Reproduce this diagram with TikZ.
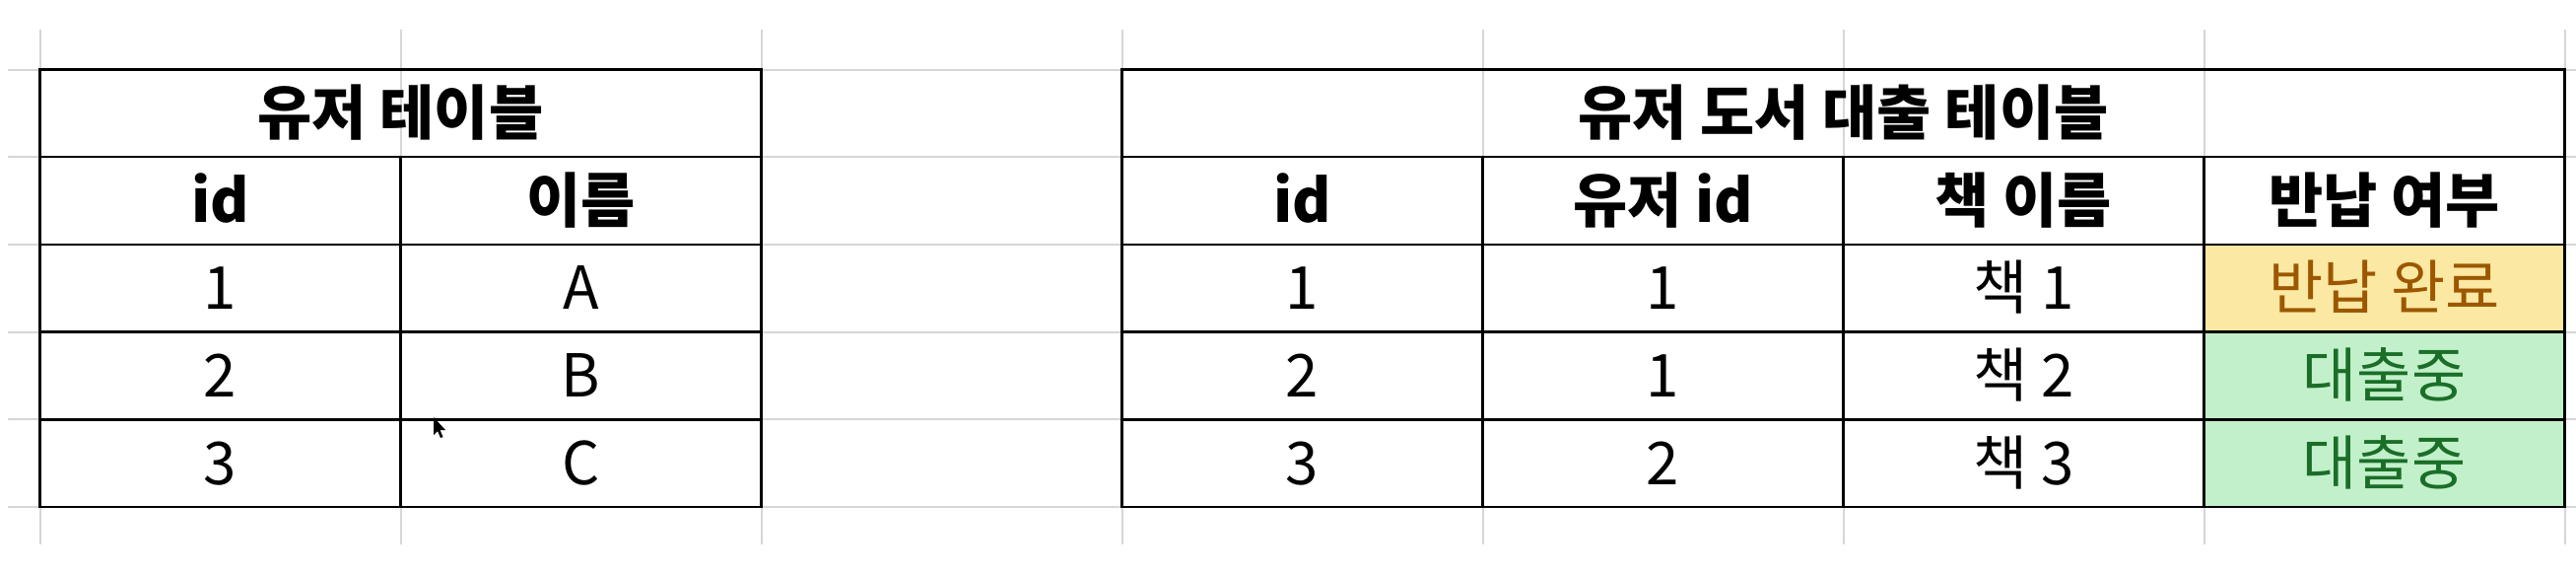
\documentclass[tikz,border=0pt]{standalone}
\usepackage{fontspec}
\setmainfont{Noto Sans CJK KR}
\definecolor{gridgray}{HTML}{D6D6D6}
\definecolor{neutralfill}{HTML}{FBE8A2}
\definecolor{neutraltext}{HTML}{9C5700}
\definecolor{goodfill}{HTML}{C2F0CA}
\definecolor{goodtext}{HTML}{1B6E28}
\begin{document}
\begin{tikzpicture}[x=1pt,y=-1pt,
  gridline/.style={draw=gridgray,line width=2pt},
  border/.style={draw=black,line width=2.4pt},
  cell/.style={anchor=base,inner sep=0pt,font=\fontsize{60}{72}\selectfont},
  head/.style={anchor=base,inner sep=0pt,font=\fontsize{60}{72}\selectfont\bfseries}]
\useasboundingbox (0,0) rectangle (2614,582);
\fill[white] (0,0) rectangle (2614,582);
% spreadsheet grid
\foreach \y in {70.5,159.2,247.9,336.6,425.3,514} \draw[gridline] (8,\y) -- (2614,\y);
\foreach \x in {40.5,406.5,772.5,1138.5,1504.5,1870.5,2236.5,2602.5} \draw[gridline] (\x,30) -- (\x,552);
% coloured cells
\fill[neutralfill] (2236.5,247.9) rectangle (2602.5,336.6);
\fill[goodfill] (2236.5,336.6) rectangle (2602.5,514);
% left table borders
\draw[border] (40.5,70.5) rectangle (772.5,514);
\foreach \y in {159.2,247.9,336.6,425.3} \draw[border] (40.5,\y) -- (772.5,\y);
\draw[border] (406.5,159.2) -- (406.5,514);
% right table borders
\draw[border] (1138.5,70.5) rectangle (2602.5,514);
\foreach \y in {159.2,247.9,336.6,425.3} \draw[border] (1138.5,\y) -- (2602.5,\y);
\foreach \x in {1504.5,1870.5,2236.5} \draw[border] (\x,159.2) -- (\x,514);
% left table texts
\node[head] (lt) at (406.5,136.5) {유저 테이블};
\node[head] (lh1) at (223.5,225) {id};
\node[head] (lh2) at (589.5,225) {이름};
\node[cell] (l11) at (223.5,313.5) {1};
\node[cell] (l12) at (589.5,313.5) {A};
\node[cell] (l21) at (223.5,402.5) {2};
\node[cell] (l22) at (589.5,402.5) {B};
\node[cell] (l31) at (223.5,491) {3};
\node[cell] (l32) at (589.5,491) {C};
% right table texts
\node[head] (rt) at (1870.5,136.5) {유저 도서 대출 테이블};
\node[head] (rh1) at (1321.5,225) {id};
\node[head] (rh2) at (1687.5,225) {유저 id};
\node[head] (rh3) at (2053.5,225) {책 이름};
\node[head] (rh4) at (2419.5,225) {반납 여부};
\node[cell] (r11) at (1321.5,313.5) {1};
\node[cell] (r12) at (1687.5,313.5) {1};
\node[cell] (r13) at (2053.5,313.5) {책 1};
\node[cell,text=neutraltext] (r14) at (2419.5,313.5) {반납 완료};
\node[cell] (r21) at (1321.5,402.5) {2};
\node[cell] (r22) at (1687.5,402.5) {1};
\node[cell] (r23) at (2053.5,402.5) {책 2};
\node[cell,text=goodtext] (r24) at (2419.5,402.5) {대출중};
\node[cell] (r31) at (1321.5,491) {3};
\node[cell] (r32) at (1687.5,491) {2};
\node[cell] (r33) at (2053.5,491) {책 3};
\node[cell,text=goodtext] (r34) at (2419.5,491) {대출중};
% mouse pointer
\fill[black] (440,423) -- (440,441) -- (444,437) -- (447,444) -- (449.5,443) -- (446.5,436) -- (452,436) -- cycle;
\end{tikzpicture}
\end{document}
